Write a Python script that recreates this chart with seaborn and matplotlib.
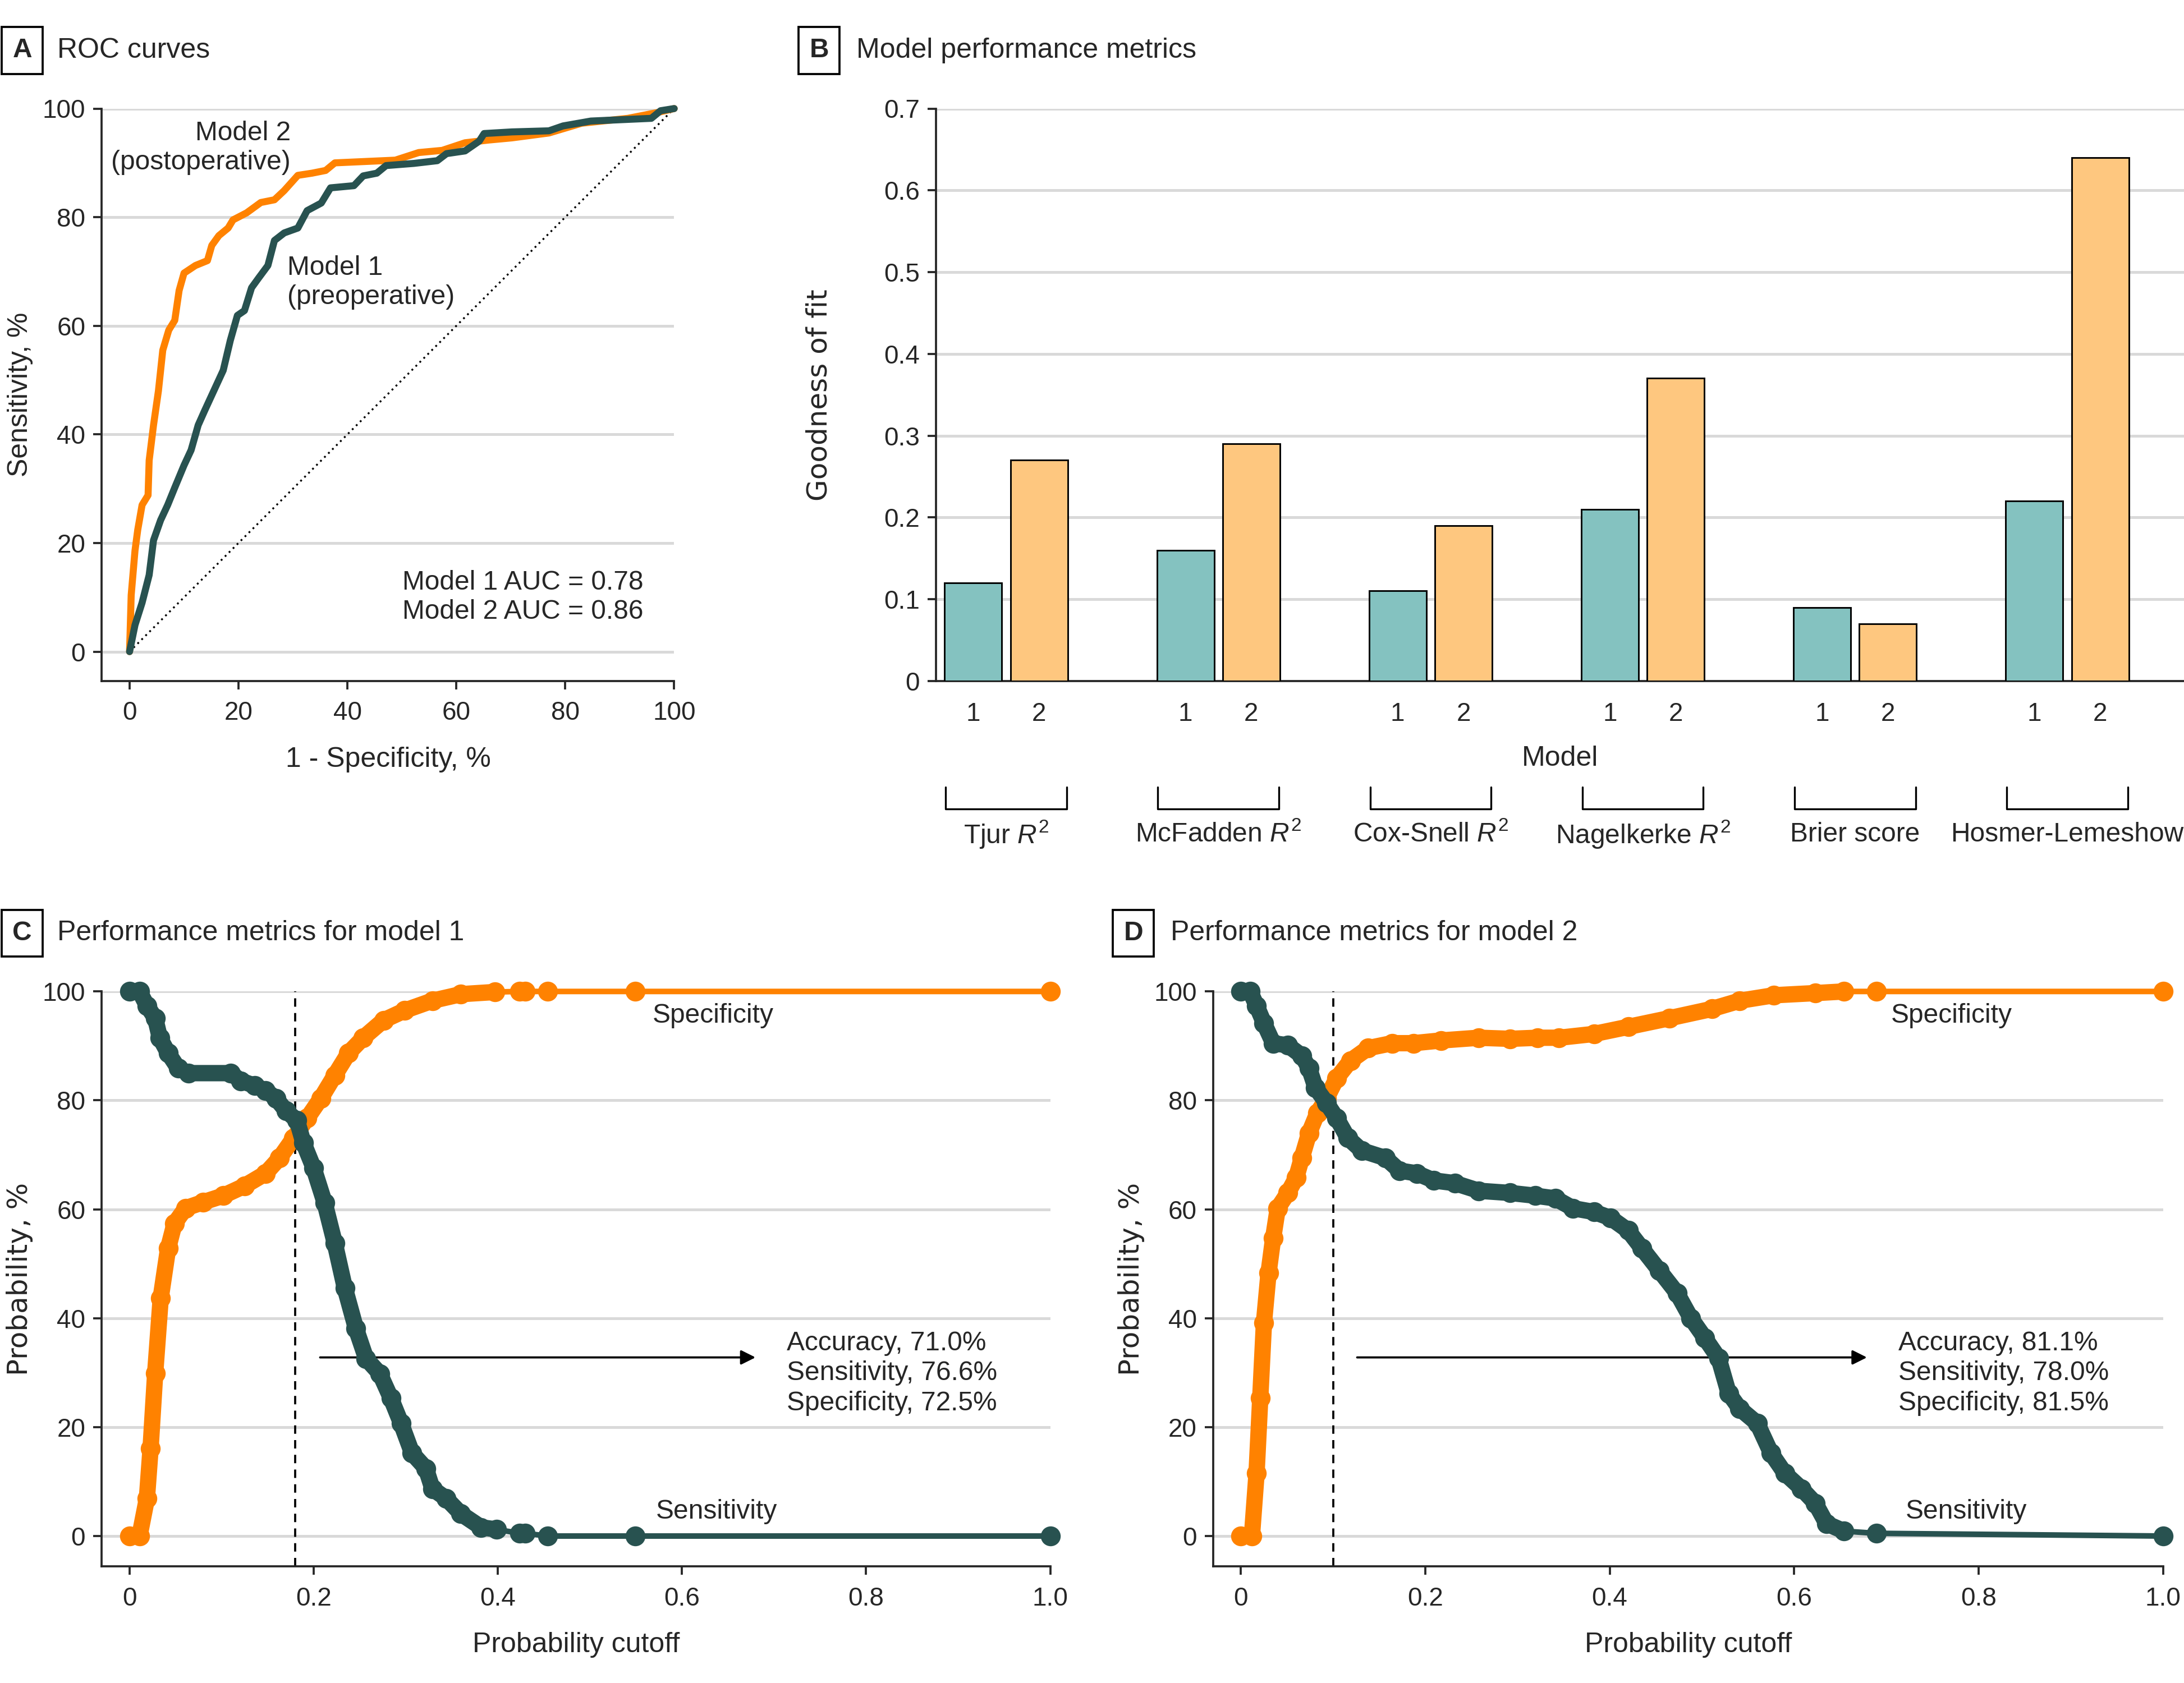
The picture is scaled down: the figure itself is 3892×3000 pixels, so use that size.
import numpy as np
import pandas as pd
import matplotlib
matplotlib.use("Agg")
import matplotlib.pyplot as plt
import seaborn as sns

# colores
naranja = '#FF8200'
verde = '#285250'
barra1 = '#84C2C0'
barra2 = '#FEC77F'
gris = '#D9D9D9'

# A. curvas ROC (1 - especificidad, sensibilidad)
roc1_fpr = [0, 1.0, 2.3, 3.6, 4.4, 5.7, 7.0, 8.3, 10.0, 11.3, 12.6, 13.8, 15.5, 17.2, 18.5,
            19.8, 21.1, 22.4, 23.7, 25.4, 26.6, 28.4, 30.9, 32.6, 35.2, 36.9, 41.2, 42.9,
            45.4, 47.1, 52.2, 56.5, 58.2, 61.6, 64.2, 65.1, 70.2, 77.0, 79.6, 84.7, 95.8,
            97.5, 100]
roc1_tpr = [0, 4.9, 9.0, 14.1, 20.5, 24.2, 27.0, 30.2, 34.3, 37.1, 41.7, 44.4, 48.1, 51.8,
            57.3, 61.9, 62.8, 67.0, 68.8, 71.1, 75.7, 77.1, 78.0, 81.2, 82.6, 85.4, 85.8,
            87.6, 88.1, 89.5, 89.9, 90.4, 91.7, 92.2, 94.0, 95.4, 95.7, 95.9, 96.8, 97.7,
            98.2, 99.6, 100]
roc2_fpr = [0, 0.3, 1.0, 1.5, 2.3, 3.4, 3.6, 4.4, 5.3, 6.1, 7.2, 8.3, 9.1, 10.0, 12.1, 14.3,
            15.1, 16.4, 18.1, 19.0, 21.5, 24.1, 26.6, 28.4, 30.9, 33.5, 36.0, 37.7, 48.8,
            53.1, 57.4, 61.6, 65.9, 70.2, 77.0, 83.0, 91.5, 96.6, 100]
roc2_tpr = [0, 10.4, 18.6, 22.4, 27.0, 28.8, 35.2, 41.7, 48.0, 55.5, 59.2, 61.0, 66.5, 69.7,
            71.1, 72.0, 74.8, 76.6, 78.0, 79.5, 80.8, 82.7, 83.2, 84.9, 87.7, 88.1, 88.6,
            90.0, 90.5, 91.9, 92.3, 93.7, 94.2, 94.6, 95.5, 97.3, 98.2, 99.2, 100]

# B. metricas de bondad de ajuste
metricas = [r'Tjur $R^2$', r'McFadden $R^2$', r'Cox-Snell $R^2$', r'Nagelkerke $R^2$',
            'Brier score', 'Hosmer-Lemeshow']
modelo1 = [0.12, 0.16, 0.11, 0.21, 0.09, 0.22]
modelo2 = [0.27, 0.29, 0.19, 0.37, 0.07, 0.64]

# C. modelo 1: punto de corte vs sensibilidad / especificidad
c1_esp_x = [0, 0.011, 0.019, 0.023, 0.028, 0.034, 0.042, 0.049, 0.061, 0.080, 0.102, 0.125,
            0.148, 0.163, 0.178, 0.193, 0.208, 0.223, 0.238, 0.254, 0.276, 0.299, 0.329,
            0.360, 0.397, 0.424, 0.430, 0.454, 0.549, 1.0]
c1_esp_y = [0, 0, 6.9, 16.1, 29.9, 43.7, 52.8, 57.4, 60.2, 61.3, 62.5, 64.3, 66.6, 69.4, 73.0,
            76.7, 80.4, 84.6, 88.7, 91.5, 94.7, 96.5, 98.3, 99.5, 99.9, 100, 100, 100, 100, 100]
c1_sen_x = [0, 0.011, 0.019, 0.028, 0.033, 0.042, 0.053, 0.064, 0.110, 0.121, 0.136, 0.148,
            0.159, 0.170, 0.182, 0.189, 0.200, 0.212, 0.223, 0.234, 0.246, 0.257, 0.272,
            0.284, 0.295, 0.307, 0.322, 0.329, 0.344, 0.360, 0.382, 0.399, 0.424, 0.430,
            0.454, 0.549, 1.0]
c1_sen_y = [100, 100, 97.4, 95.1, 91.5, 88.7, 85.9, 85.0, 85.0, 83.6, 82.7, 81.8, 80.4, 78.1,
            76.3, 72.2, 67.6, 61.2, 53.8, 45.5, 38.1, 32.6, 29.8, 25.3, 20.7, 15.2, 12.4,
            8.7, 6.9, 4.1, 1.6, 1.2, 0.5, 0.5, 0, 0, 0]

# D. modelo 2
c2_esp_x = [0, 0.012, 0.017, 0.021, 0.025, 0.030, 0.035, 0.040, 0.051, 0.060, 0.066, 0.074,
            0.083, 0.093, 0.104, 0.119, 0.138, 0.164, 0.187, 0.217, 0.258, 0.292, 0.322,
            0.345, 0.383, 0.420, 0.465, 0.511, 0.541, 0.578, 0.623, 0.654, 0.689, 1.0]
c2_esp_y = [0, 0, 11.5, 25.3, 39.1, 48.3, 54.7, 60.2, 63.0, 65.8, 69.4, 74.0, 77.7, 80.4,
            84.1, 87.3, 89.6, 90.5, 90.5, 91.0, 91.5, 91.3, 91.5, 91.5, 92.2, 93.5, 95.1,
            96.8, 98.3, 99.3, 99.7, 100, 100, 100]
c2_sen_x = [0, 0.010, 0.017, 0.025, 0.035, 0.051, 0.066, 0.074, 0.081, 0.093, 0.104, 0.116,
            0.131, 0.157, 0.172, 0.191, 0.209, 0.232, 0.258, 0.292, 0.319, 0.341, 0.360,
            0.383, 0.401, 0.420, 0.435, 0.454, 0.473, 0.488, 0.503, 0.518, 0.529, 0.541,
            0.560, 0.575, 0.590, 0.608, 0.623, 0.635, 0.654, 0.689, 1.0]
c2_sen_y = [100, 100, 97.4, 94.2, 90.5, 90.1, 88.2, 85.9, 82.3, 79.5, 76.7, 73.1, 70.8, 69.4,
            67.1, 66.6, 65.3, 64.8, 63.4, 63.0, 62.5, 62.0, 60.2, 59.5, 58.4, 56.1, 52.8,
            48.7, 44.6, 40.0, 36.4, 32.7, 26.2, 23.4, 20.7, 15.2, 11.5, 8.7, 6.0, 2.3, 0.9,
            0.5, 0]

corte1 = 0.18
corte2 = 0.10
resumen1 = 'Accuracy, 71.0%\nSensitivity, 76.6%\nSpecificity, 72.5%'
resumen2 = 'Accuracy, 81.1%\nSensitivity, 78.0%\nSpecificity, 81.5%'

# estilo
sns.set_style("ticks")
plt.rcParams['font.family'] = ['Liberation Sans', 'DejaVu Sans']
plt.rcParams['mathtext.fontset'] = 'custom'
plt.rcParams['mathtext.rm'] = 'Liberation Sans'
plt.rcParams['mathtext.it'] = 'Liberation Sans:italic'
plt.rcParams['font.size'] = 11
plt.rcParams['axes.linewidth'] = 0.9
plt.rcParams['xtick.major.width'] = 0.9
plt.rcParams['ytick.major.width'] = 0.9
plt.rcParams['xtick.major.size'] = 3.5
plt.rcParams['ytick.major.size'] = 3.5
plt.rcParams['xtick.major.pad'] = 5
plt.rcParams['xtick.labelsize'] = 11
plt.rcParams['ytick.labelsize'] = 11

fig = plt.figure(figsize=(3892 / 300, 3000 / 300), dpi=300)
axA = fig.add_axes([0.0466, 0.5954, 0.2621, 0.3401])
axB = fig.add_axes([0.4286, 0.5954, 0.5714, 0.3401])
axC = fig.add_axes([0.0466, 0.0692, 0.4343, 0.3417])
axD = fig.add_axes([0.5555, 0.0692, 0.4349, 0.3417])


def rejilla(ax, ticks):
    for t in ticks:
        ax.axhline(t, color=gris, lw=1.2, zorder=0)
    sns.despine(ax=ax)


def titulo(x_letra, x_texto, y, letra, texto):
    fig.text(x_letra, y, letra, ha='center', va='center', fontsize=11.5, fontweight='bold',
             bbox=dict(boxstyle='square,pad=0.4', fc='white', ec='black', lw=0.9))
    fig.text(x_texto, y, texto, ha='left', va='center', fontsize=12)


# ---------- A ----------
rejilla(axA, [0, 20, 40, 60, 80, 100])
axA.plot([0, 100], [0, 100], color='black', lw=0.8, ls=(0, (1, 2)), zorder=1)
sns.lineplot(x=roc2_fpr, y=roc2_tpr, ax=axA, color=naranja, lw=3.0, sort=False,
             estimator=None, zorder=3, clip_on=False)
sns.lineplot(x=roc1_fpr, y=roc1_tpr, ax=axA, color=verde, lw=3.0, sort=False,
             estimator=None, zorder=4, clip_on=False)
axA.set_xlim(-5.1, 100)
axA.set_ylim(-5.4, 100)
axA.set_xticks([0, 20, 40, 60, 80, 100])
axA.set_yticks([0, 20, 40, 60, 80, 100])
axA.set_xlabel('1 - Specificity, %', fontsize=12, labelpad=9)
axA.set_ylabel('Sensitivity, %', fontsize=12)
axA.text(29.6, 92.8, 'Model 2\n(postoperative)', ha='right', va='center', fontsize=11.5,
         linespacing=1.2)
axA.text(29.0, 68.0, 'Model 1\n(preoperative)', ha='left', va='center', fontsize=11.5,
         linespacing=1.2)
axA.text(50.1, 10.0, 'Model 1 AUC = 0.78\nModel 2 AUC = 0.86', ha='left', va='center',
         fontsize=11.5, linespacing=1.2)
titulo(0.0102, 0.0261, 0.970, 'A', 'ROC curves')

# ---------- B ----------
df_b = pd.DataFrame({
    'metrica': metricas * 2,
    'valor': modelo1 + modelo2,
    'modelo': ['1'] * len(metricas) + ['2'] * len(metricas),
})
rejilla(axB, [0.1, 0.2, 0.3, 0.4, 0.5, 0.6, 0.7])
sns.barplot(data=df_b, x='metrica', y='valor', hue='modelo', palette=[barra1, barra2],
            saturation=1, width=0.62, gap=0.13, edgecolor='black', linewidth=0.7,
            legend=False, ax=axB, zorder=3)
axB.set_xlim(-0.33, 5.55)
axB.set_ylim(0, 0.7)
axB.set_yticks([0, 0.1, 0.2, 0.3, 0.4, 0.5, 0.6, 0.7])
axB.set_yticklabels(['0', '0.1', '0.2', '0.3', '0.4', '0.5', '0.6', '0.7'])
pos = []
etq = []
for i in range(len(metricas)):
    pos += [i - 0.155, i + 0.155]
    etq += ['1', '2']
axB.set_xticks(pos)
axB.set_xticklabels(etq)
axB.tick_params(axis='x', length=0, pad=9)
axB.set_xlabel('Model', fontsize=12, labelpad=8)
axB.set_ylabel('Goodness of fit', fontsize=12, family=['DejaVu Sans'], labelpad=22)
trans = axB.get_xaxis_transform()
for i, m in enumerate(metricas):
    axB.plot([i - 0.285, i - 0.285, i + 0.285, i + 0.285], [-0.185, -0.224, -0.224, -0.185],
             color='black', lw=0.8, transform=trans, clip_on=False)
    axB.text(i, -0.268, m, ha='center', va='center', fontsize=11.5, transform=trans)
titulo(0.375, 0.392, 0.970, 'B', 'Model performance metrics')


# ---------- C y D ----------
def panel_corte(ax, ex, ey, sx, sy, corte, resumen, x_flecha, x_esp, x_sen, fin_denso):
    rejilla(ax, [0, 20, 40, 60, 80, 100])
    ax.axvline(corte, color='black', lw=0.9, ls=(0, (4, 3)), zorder=2)
    for xs, ys, col, z in [(ex, ey, naranja, 3), (sx, sy, verde, 4)]:
        xs = np.array(xs)
        ys = np.array(ys)
        denso = xs <= fin_denso
        sns.lineplot(x=xs[denso], y=ys[denso], ax=ax, color=col, lw=7.0, sort=False,
                     estimator=None, zorder=z, solid_capstyle='round',
                     solid_joinstyle='round', clip_on=False)
        sns.lineplot(x=xs, y=ys, ax=ax, color=col, lw=2.4, sort=False, estimator=None,
                     marker='o', markersize=8.5, markeredgewidth=0, zorder=z, clip_on=False)
    ax.annotate('', xy=(x_flecha[1], 32.8), xytext=(x_flecha[0], 32.8),
                arrowprops=dict(arrowstyle='-|>', color='black', lw=0.9,
                                mutation_scale=13))
    ax.text(x_flecha[1] + 0.029, 29.9, resumen, ha='left', va='center', fontsize=11.5,
            linespacing=1.25)
    ax.text(x_esp, 95.6, 'Specificity', ha='left', va='center', fontsize=11.5)
    ax.text(x_sen, 4.5, 'Sensitivity', ha='left', va='center', fontsize=11.5)
    ax.set_xlim(-0.03, 1.0)
    ax.set_ylim(-5.6, 100)
    ax.set_xticks([0, 0.2, 0.4, 0.6, 0.8, 1.0])
    ax.set_xticklabels(['0', '0.2', '0.4', '0.6', '0.8', '1.0'])
    ax.set_yticks([0, 20, 40, 60, 80, 100])
    ax.set_xlabel('Probability cutoff', fontsize=12, labelpad=9)
    ax.set_ylabel('Probability, %', fontsize=12, family=['DejaVu Sans'])


panel_corte(axC, c1_esp_x, c1_esp_y, c1_sen_x, c1_sen_y, corte1, resumen1,
            (0.202, 0.685), 0.568, 0.572, 0.40)
panel_corte(axD, c2_esp_x, c2_esp_y, c2_sen_x, c2_sen_y, corte2, resumen2,
            (0.121, 0.684), 0.705, 0.721, 0.66)
titulo(0.0102, 0.0261, 0.4456, 'C', 'Performance metrics for model 1')
titulo(0.519, 0.536, 0.4456, 'D', 'Performance metrics for model 2')

plt.savefig('out.png', dpi=300)
